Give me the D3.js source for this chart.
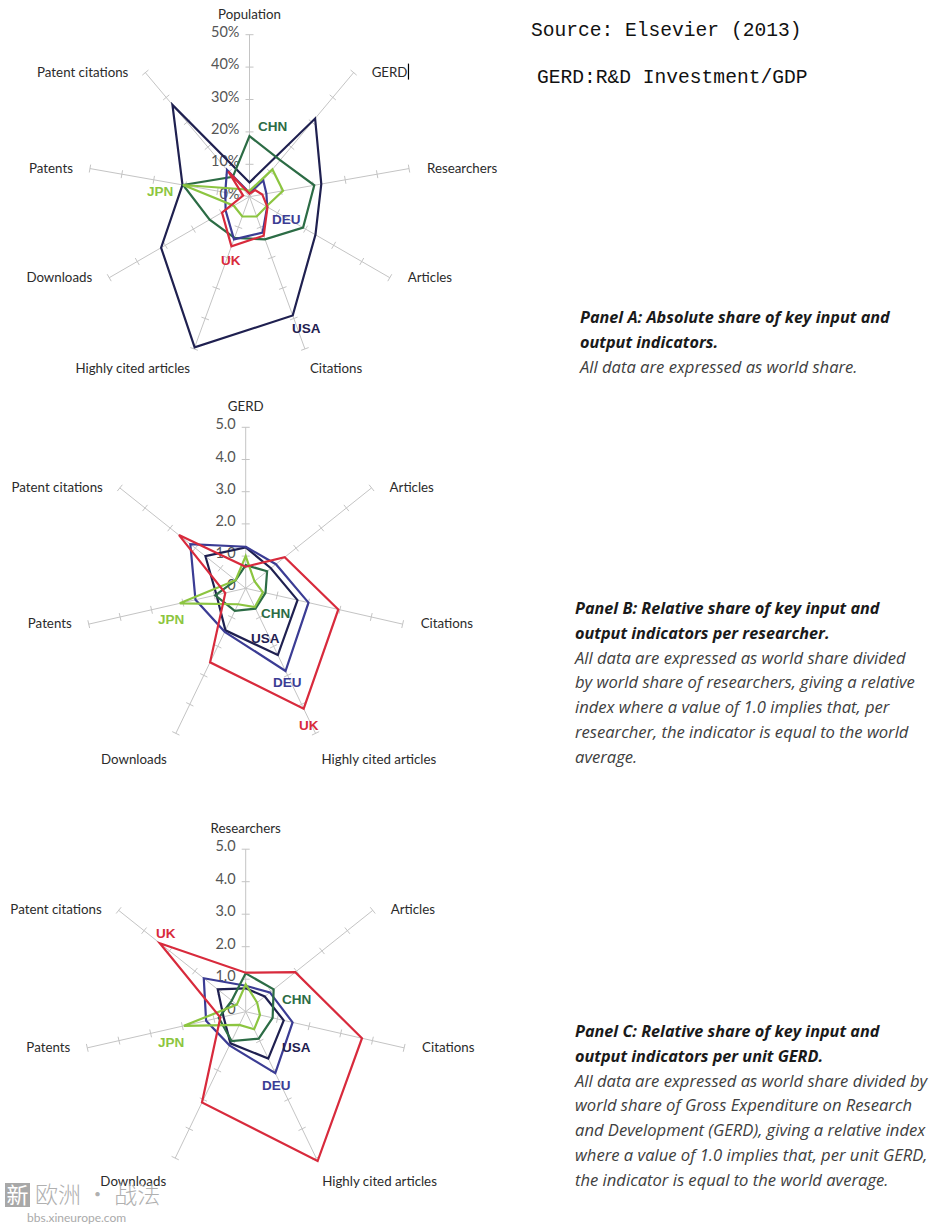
<!DOCTYPE html>
<html><head><meta charset="utf-8">
<script src="https://cdn.jsdelivr.net/npm/d3@7"></script>
<style>body{margin:0;background:#fff}svg{display:block}</style>
</head><body>
<svg id="c" width="937" height="1229"></svg>
<script>
// ---------- DATA ----------
const countries = ["USA","DEU","CHN","JPN","UK"];
const colors = {USA:"#1f2050", DEU:"#3b3c94", CHN:"#2c6c45", JPN:"#8cc540", UK:"#d82a3c"};

// Panel A: absolute world share (%)
const axesA = ["Population","GERD","Researchers","Articles","Citations","Highly cited articles","Downloads","Patents","Patent citations"];
const tickLabelsA = ["0%","10%","20%","30%","40%","50%"];
const usaA = [4.4, 31.5, 22.5, 23.5, 39, 49.5, 31.5, 21, 37];
const deuA = [1.2, 6.6, 5.3, 6.3, 11.8, 14, 8.5, 7.6, 10.8];
const chnA = [18.7, 14.7, 20.3, 19.1, 14, 13.5, 14.2, 20.8, 8];
const jpnA = [1.8, 11, 10.5, 6, 6.5, 6.5, 5.6, 20.8, 3];
const ukA  = [0.9, 2.7, 4, 6.4, 12.8, 16.3, 9.8, 2, 10.2];

// Panel B: relative share per researcher
const axesB = ["GERD","Articles","Citations","Highly cited articles","Downloads","Patents","Patent citations"];
const tickLabelsB = ["0","1.0","2.0","3.0","4.0","5.0"];
const usaB = [1.27, 1.0, 1.65, 2.3, 1.45, 0.93, 1.6];
const deuB = [1.29, 1.2, 2.0, 2.85, 1.5, 1.6, 2.2];
const chnB = [0.72, 0.85, 0.63, 0.7, 0.78, 0.97, 0.4];
const jpnB = [1.0, 0.35, 0.55, 0.65, 0.55, 2.1, 0.4];
const ukB  = [0.67, 1.55, 2.95, 4.15, 2.55, 0.65, 2.65];

// Panel C: relative share per unit GERD
const axesC = ["Researchers","Articles","Citations","Highly cited articles","Downloads","Patents","Patent citations"];
const tickLabelsC = ["0","1.0","2.0","3.0","4.0","5.0"];
const usaC = [0.72, 0.75, 1.2, 1.6, 1.08, 0.7, 1.1];
const deuC = [0.8, 0.95, 1.48, 2.1, 1.15, 1.25, 1.65];
const chnC = [1.18, 1.1, 0.85, 0.92, 1.0, 0.85, 0.55];
const jpnC = [0.84, 0.45, 0.45, 0.6, 0.45, 1.95, 0.35];
const ukC  = [1.2, 1.95, 3.67, 5.1, 3.1, 0.8, 3.38];

const sourceLines = ["Source: Elsevier (2013)", "GERD:R&D Investment/GDP"];
const textA = {title:["Panel A: Absolute share of key input and","output indicators."],
  body:["All data are expressed as world share."]};
const textB = {title:["Panel B: Relative share of key input and","output indicators per researcher."],
  body:["All data are expressed as world share divided","by world share of researchers, giving a relative","index where a value of 1.0 implies that, per","researcher, the indicator is equal to the world","average."]};
const textC = {title:["Panel C: Relative share of key input and","output indicators per unit GERD."],
  body:["All data are expressed as world share divided by","world share of Gross Expenditure on Research","and Development (GERD), giving a relative index","where a value of 1.0 implies that, per unit GERD,","the indicator is equal to the world average."]};

// ---------- DRAW ----------
const svg = d3.select("#c");
svg.append("rect").attr("width",937).attr("height",1229).attr("fill","#fff");

function panel(cfg){
  const g = svg.append("g").attr("transform",`translate(${cfg.cx},${cfg.cy})`);
  const r = d3.scaleLinear().domain([0,cfg.max]).range([0,cfg.R]);
  const n = cfg.axes.length;
  const ang = d3.scaleLinear().domain([0,n]).range([0,2*Math.PI]);
  const ticks = r.ticks(5);
  cfg.axes.forEach((a,i)=>{
    const t = ang(i), sx = Math.sin(t), sy = -Math.cos(t);
    g.append("line").attr("x1",0).attr("y1",0)
      .attr("x2",r(cfg.max)*sx).attr("y2",r(cfg.max)*sy)
      .attr("stroke","#c4c4c4").attr("stroke-width",1);
    ticks.filter(v=>v>0).forEach(v=>{
      const px=r(v)*sx, py=r(v)*sy, h=4;
      g.append("line").attr("x1",px-sy*h).attr("y1",py+sx*h)
        .attr("x2",px+sy*h).attr("y2",py-sx*h)
        .attr("stroke","#c4c4c4").attr("stroke-width",1);
    });
    const ex=r(cfg.max)*sx, ey=r(cfg.max)*sy;
    let x,y,anchor;
    if (Math.abs(sx)<0.05 && sy<0){ x=ex; y=ey-16; anchor="middle"; }
    else if (sy>0.85){ anchor = sx>0?"start":"end"; x = ex + (sx>0?cfg.bx1:cfg.bx2); y = ey+cfg.bottomDy; }
    else { anchor = sx>0?"start":"end"; x = ex + (sx>0?18:-17); y = ey+4; }
    const tx = g.append("text").attr("x",x).attr("y",y).attr("text-anchor",anchor)
      .attr("font-family","Lato, 'Open Sans', sans-serif").attr("font-size",13.3)
      .attr("fill","#2b2b2b").text(a);
    if (cfg.cursorOn===a){
      const bb = tx.node().getBBox();
      g.append("line").attr("x1",bb.x+bb.width+1).attr("x2",bb.x+bb.width+1)
        .attr("y1",y-13).attr("y2",y+3).attr("stroke","#000").attr("stroke-width",1.2);
    }
  });
  ticks.forEach((v,i)=>{
    g.append("text").attr("x",-10).attr("y",-r(v)-3).attr("dy","0.35em")
      .attr("text-anchor","end").attr("font-family","Lato, 'Open Sans', sans-serif")
      .attr("font-size",14.5).attr("fill","#555").text(cfg.tickLabels[i]);
  });
  const line = d3.lineRadial().angle((d,i)=>ang(i)).radius(d=>r(d)).curve(d3.curveLinearClosed);
  cfg.order.forEach(c=>{
    g.append("path").attr("d",line(cfg.series[c])).attr("fill","none")
      .attr("stroke",colors[c]).attr("stroke-width",2.2).attr("stroke-linejoin","miter");
  });
  Object.entries(cfg.labels).forEach(([c,p])=>{
    svg.append("text").attr("x",p[0]).attr("y",p[1])
      .attr("font-family","'Liberation Sans', Arial, sans-serif").attr("font-weight","bold")
      .attr("font-size",13.5).attr("fill",colors[c]).text(c);
  });
}

panel({cx:249.5, cy:196.7, R:162, max:50, axes:axesA, tickLabels:tickLabelsA,
  bottomDy:24, bx1:5, bx2:-4, cursorOn:"GERD",
  order:["USA","CHN","DEU","JPN","UK"],
  series:{USA:usaA, DEU:deuA, CHN:chnA, JPN:jpnA, UK:ukA},
  labels:{CHN:[258,131], JPN:[147,196], DEU:[272,224], UK:[221,265], USA:[292,333]}});

panel({cx:245.7, cy:588.3, R:161, max:5, axes:axesB, tickLabels:tickLabelsB,
  bottomDy:31, bx1:6, bx2:-9,
  order:["USA","DEU","CHN","JPN","UK"],
  series:{USA:usaB, DEU:deuB, CHN:chnB, JPN:jpnB, UK:ukB},
  labels:{CHN:[261,618], JPN:[158,624], USA:[251,643], DEU:[273,687], UK:[299,730]}});

panel({cx:245.7, cy:1011.7, R:162.5, max:5, axes:axesC, tickLabels:tickLabelsC,
  bottomDy:28, bx1:6, bx2:-9,
  order:["USA","DEU","CHN","JPN","UK"],
  series:{USA:usaC, DEU:deuC, CHN:chnC, JPN:jpnC, UK:ukC},
  labels:{UK:[156,938], CHN:[282,1004], JPN:[158,1047], USA:[282,1052], DEU:[262,1090]}});

// source text
svg.append("text").attr("x",531).attr("y",36).attr("font-family","'Liberation Mono', monospace")
  .attr("font-size",19.6).attr("fill","#111").text(sourceLines[0]);
svg.append("text").attr("x",537).attr("y",83).attr("font-family","'Liberation Mono', monospace")
  .attr("font-size",19.6).attr("fill","#111").text(sourceLines[1]);

// description blocks: font size fitted so reference line widths are matched
const descFont = "'Open Sans', sans-serif";
function fitSize(str, weight, target){
  const t = svg.append("text").attr("font-family",descFont).attr("font-style","italic")
    .attr("font-weight",weight).attr("font-size",20).text(str);
  const w = t.node().getComputedTextLength(); t.remove();
  return 20*target/w;
}
const titleSize = fitSize(textA.title[0],"bold",310);
const bodySize = fitSize(textB.body[0],"normal",331);
function desc(t,x,y0){
  let y=y0;
  t.title.forEach(s=>{
    svg.append("text").attr("x",x).attr("y",y).attr("font-family",descFont)
      .attr("font-weight","bold").attr("font-style","italic").attr("font-size",titleSize)
      .attr("fill","#1a1a1a").text(s); y+=24.8;
  });
  t.body.forEach(s=>{
    svg.append("text").attr("x",x).attr("y",y).attr("font-family",descFont)
      .attr("font-style","italic").attr("font-weight",400).attr("font-size",bodySize)
      .attr("fill","#404040").text(s); y+=24.8;
  });
}
desc(textA,580,323);
desc(textB,575,614);
desc(textC,575,1037);

// watermark
svg.append("rect").attr("x",5).attr("y",1183).attr("width",25).attr("height",24).attr("fill","#a8a8a8");
svg.append("text").attr("x",17.5).attr("y",1203).attr("text-anchor","middle")
  .attr("font-family","'Noto Sans CJK SC', sans-serif").attr("font-size",22).attr("fill","#fff").text("新");
svg.append("text").attr("x",35).attr("y",1203)
  .attr("font-family","'Noto Sans CJK SC', sans-serif").attr("font-size",23).attr("font-weight",300)
  .attr("fill","#b0b0b0").text("欧洲 · 战法");
svg.append("text").attr("x",27).attr("y",1222)
  .attr("font-family","Lato, sans-serif").attr("font-size",12).attr("fill","#aaa").text("bbs.xineurope.com");
</script>
</body></html>
